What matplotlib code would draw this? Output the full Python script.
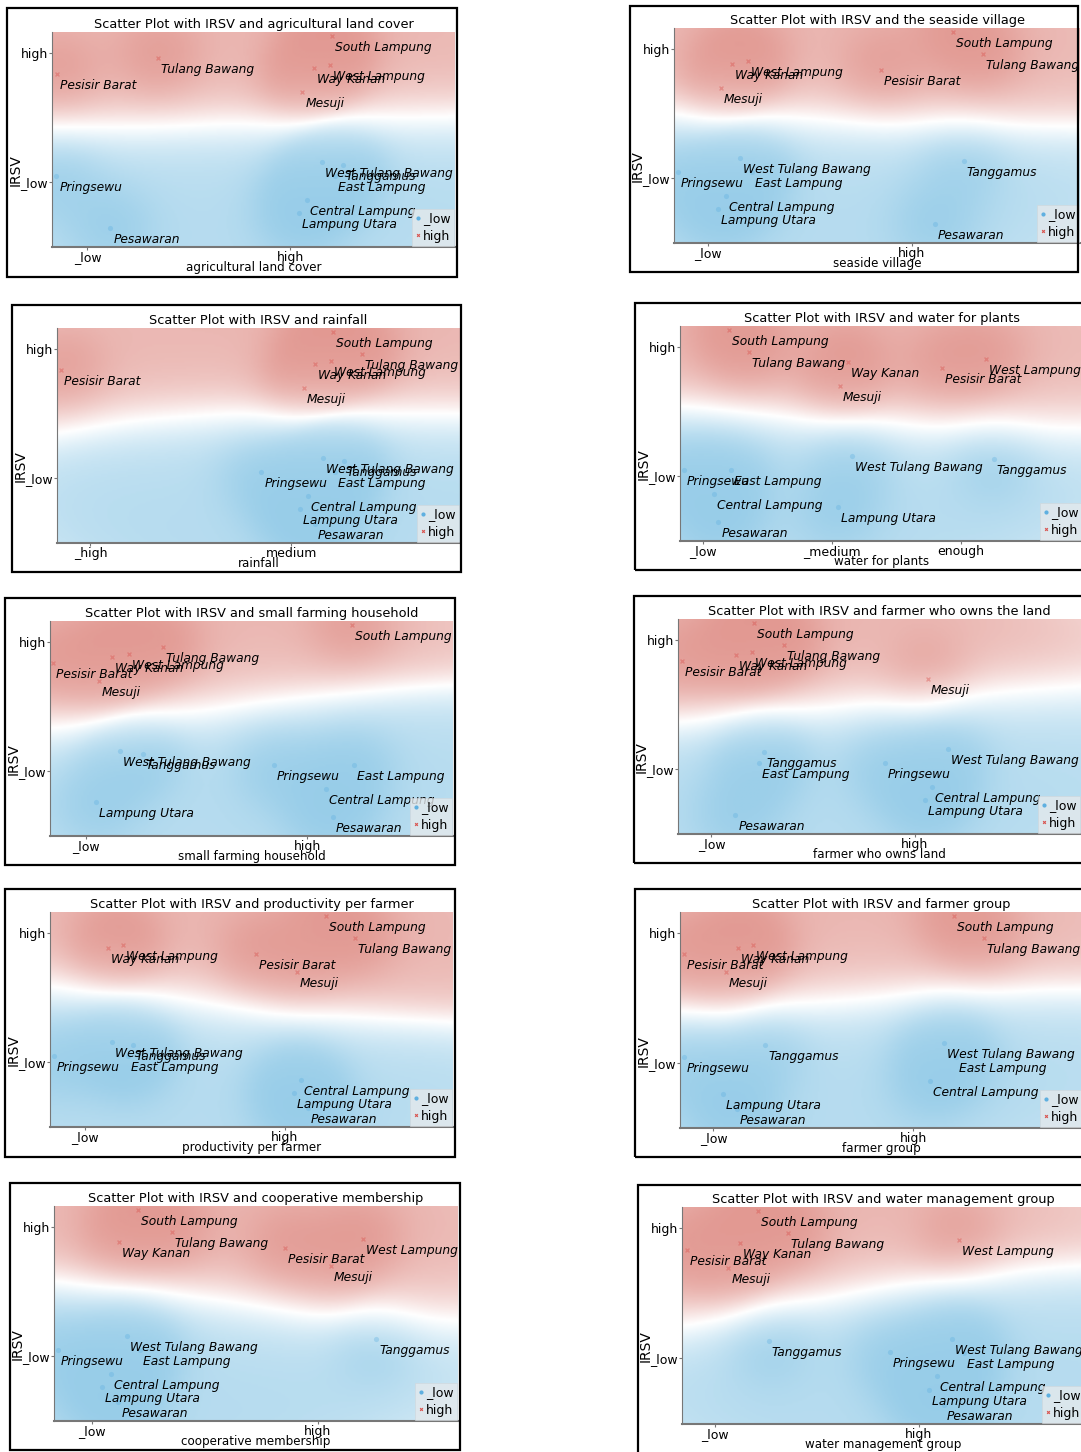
import numpy as np
import matplotlib
matplotlib.use("Agg")
import matplotlib.pyplot as plt
from matplotlib.colors import LinearSegmentedColormap
from matplotlib.lines import Line2D
from matplotlib.patches import Rectangle

# regions and their (jittered) IRSV position, shared by every panel
regions = ["South Lampung", "Tulang Bawang", "West Lampung", "Way Kanan", "Pesisir Barat",
           "Mesuji", "West Tulang Bawang", "Tanggamus", "Pringsewu", "East Lampung",
           "Central Lampung", "Lampung Utara", "Pesawaran"]
irsv_class = ["high"] * 6 + ["_low"] * 7
irsv_y = [0.981, 0.880, 0.848, 0.832, 0.804, 0.721, 0.394, 0.382, 0.330, 0.328, 0.219, 0.157, 0.089]
irsv_ticks = [0.302, 0.903]
irsv_ticklabels = ["_low", "high"]

# jittered x position of each region per variable
x_agri = [0.694, 0.264, 0.690, 0.650, 0.012, 0.621, 0.669, 0.721, 0.011, 0.701, 0.632, 0.614, 0.145]
x_seaside = [0.688, 0.760, 0.182, 0.144, 0.511, 0.115, 0.162, 0.714, 0.010, 0.193, 0.127, 0.108, 0.643]
x_rain = [0.684, 0.758, 0.679, 0.640, 0.011, 0.612, 0.659, 0.711, 0.507, 0.690, 0.622, 0.603, 0.640]
x_water = [0.122, 0.171, 0.759, 0.417, 0.650, 0.397, 0.427, 0.779, 0.010, 0.127, 0.085, 0.391, 0.095]
x_household = [0.750, 0.281, 0.196, 0.155, 0.008, 0.121, 0.174, 0.230, 0.556, 0.754, 0.684, 0.114, 0.702]
x_owner = [0.188, 0.262, 0.183, 0.143, 0.010, 0.620, 0.669, 0.213, 0.514, 0.202, 0.631, 0.612, 0.142]
x_product = [0.684, 0.758, 0.182, 0.143, 0.510, 0.612, 0.153, 0.205, 0.010, 0.193, 0.624, 0.605, 0.640]
x_group = [0.680, 0.754, 0.180, 0.143, 0.011, 0.113, 0.655, 0.211, 0.010, 0.684, 0.620, 0.106, 0.141]
x_coop = [0.208, 0.291, 0.764, 0.160, 0.572, 0.686, 0.181, 0.798, 0.010, 0.214, 0.140, 0.119, 0.159]
x_wmg = [0.188, 0.262, 0.688, 0.144, 0.012, 0.115, 0.669, 0.215, 0.516, 0.700, 0.632, 0.613, 0.650]

titles = ["agricultural land cover", "the seaside village", "rainfall", "water for plants",
          "small farming household", "farmer who owns the land", "productivity per farmer",
          "farmer group", "cooperative membership", "water management group"]
xlabels = ["agricultural land cover", "seaside village", "rainfall", "water for plants",
           "small farming household", "farmer who owns land", "productivity per farmer",
           "farmer group", "cooperative membership", "water management group"]
xtick_labels = [["_low", "high"], ["_low", "high"], ["_high", "medium"], ["_low", "_medium", "enough"],
                ["_low", "high"], ["_low", "high"], ["_low", "high"], ["_low", "high"],
                ["_low", "high"], ["_low", "high"]]
xtick_pos = [[0.088, 0.591], [0.084, 0.585], [0.083, 0.581], [0.058, 0.378, 0.697],
             [0.089, 0.638], [0.083, 0.588], [0.087, 0.583], [0.083, 0.579],
             [0.094, 0.653], [0.082, 0.588]]
xs_all = [x_agri, x_seaside, x_rain, x_water, x_household, x_owner, x_product, x_group, x_coop, x_wmg]

# layout in pixels: axes (left, top, right, bottom) and outer frame (x0, y0, x1, y1)
W, H = 1081, 1452
ax_px = [(52, 32, 455, 247), (674, 28, 1080, 243), (57, 328, 460, 543), (680, 326, 1083, 541),
         (50, 621, 453, 836), (678, 619, 1081, 834), (50, 912, 453, 1127), (680, 912, 1083, 1128),
         (54, 1206, 458, 1421), (682, 1207, 1085, 1424)]
box_px = [(7, 8, 457, 277), (630, 6, 1078, 272), (12, 305, 461, 572), (635, 303, 1085, 570),
          (5, 598, 455, 865), (634, 596, 1084, 863), (5, 889, 455, 1157), (635, 889, 1085, 1157),
          (10, 1183, 460, 1450), (638, 1185, 1088, 1454)]

cmap = LinearSegmentedColormap.from_list("irsv", [(0.40, 0.71, 0.87), (1, 1, 1), (0.83, 0.40, 0.36)])


def background(xs, ys, sign, wpx=403, hpx=215):
	# smooth class field from the points (wider along x than along y)
	gx, gy = np.meshgrid(np.linspace(0, 1, 240), np.linspace(0, 1, 130))
	dx = (gx[..., None] - xs) * wpx
	dy = (gy[..., None] - ys) * hpx
	w1 = np.exp(-0.5 * ((dx / 150.0) ** 2 + (dy / 60.0) ** 2))
	dens = w1.sum(axis=-1)
	f = (w1 * sign).sum(axis=-1) / (dens + 1e-9)
	base = np.tanh(1.9 * f) * (1 - np.exp(-dens / 0.7))
	w2 = np.exp(-(dx ** 2 + dy ** 2) / (2 * 30.0 ** 2))
	blob = np.tanh((w2 * sign).sum(axis=-1))
	return np.clip(0.5 * base + 0.2 * blob, -1, 1)


fig = plt.figure(figsize=(W / 100, H / 100), dpi=100)
ys = np.array(irsv_y)
sign = np.array([1.0 if c == "high" else -1.0 for c in irsv_class])
hi = sign > 0

for i in range(10):
	l, t, r, b = ax_px[i]
	ax = fig.add_axes([l / W, 1 - b / H, (r - l) / W, (b - t) / H])
	xs = np.array(xs_all[i])

	v = background(xs, ys, sign, r - l, b - t)
	ax.imshow(v, extent=(0, 1, 0, 1), origin="lower", aspect="auto", cmap=cmap,
		vmin=-1, vmax=1, interpolation="bilinear", zorder=0)

	ax.scatter(xs[~hi], ys[~hi], s=14, marker="o", color="#5fb0e0", alpha=0.35, lw=0, zorder=2)
	ax.scatter(xs[hi], ys[hi], s=8, marker="x", color="#d9534f", alpha=0.4, lw=1, zorder=2)
	for name, x, y in zip(regions, xs, ys):
		ax.annotate(name, (x, y), xytext=(3, -15), textcoords="offset pixels",
			fontsize=8.8, style="italic", va="baseline", ha="left", zorder=3)

	ax.set_xlim(0, 1)
	ax.set_ylim(0, 1)
	ax.set_xticks(xtick_pos[i])
	ax.set_xticklabels(xtick_labels[i])
	ax.set_yticks(irsv_ticks)
	ax.set_yticklabels(irsv_ticklabels)
	ax.tick_params(length=2, pad=1, labelsize=9, color="#777777")
	for s in ["top", "right"]:
		ax.spines[s].set_visible(False)
	for s in ["left", "bottom"]:
		ax.spines[s].set_color("#777777")
	ax.spines["bottom"].set_linewidth(1.5)

	ax.set_title("Scatter Plot with IRSV and " + titles[i], fontsize=9.3, pad=3)
	ax.set_xlabel(xlabels[i], fontsize=8.6, labelpad=-2.5)
	ax.set_ylabel("IRSV", fontsize=10)
	ax.yaxis.set_label_coords(-0.072, 0.358)

	handles = [Line2D([], [], ls="", marker="o", ms=2, color="#5fb0e0"),
		Line2D([], [], ls="", marker="x", ms=2, mew=0.8, color="#d9534f")]
	leg = ax.legend(handles, ["_low", "high"], loc="lower right", fontsize=9,
		handlelength=0.4, handletextpad=0.2, borderpad=0.25, borderaxespad=0.1,
		labelspacing=0.35, frameon=True, fancybox=False)
	leg.get_frame().set_facecolor("#e4e9ec")
	leg.get_frame().set_alpha(0.8)
	leg.get_frame().set_edgecolor("#d0d6da")
	leg.get_frame().set_linewidth(0.5)

	# outer frame round each panel
	x0, y0, x1, y1 = box_px[i]
	fig.add_artist(Rectangle((x0 / W, 1 - y1 / H), (x1 - x0) / W, (y1 - y0) / H,
		transform=fig.transFigure, fill=False, lw=1.6, ec="black"))

fig.savefig("out.png", dpi=100)
